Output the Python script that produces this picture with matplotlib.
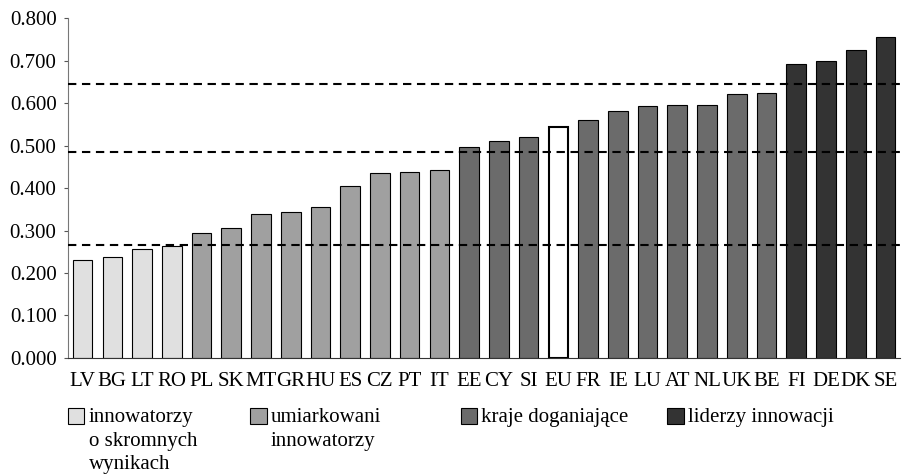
import matplotlib
matplotlib.use("Agg")
import matplotlib.pyplot as plt
from matplotlib.patches import Patch
from matplotlib.ticker import FormatStrFormatter

# dane
countries = ['LV', 'BG', 'LT', 'RO', 'PL', 'SK', 'MT', 'GR', 'HU', 'ES', 'CZ', 'PT', 'IT',
             'EE', 'CY', 'SI', 'EU', 'FR', 'IE', 'LU', 'AT', 'NL', 'UK', 'BE',
             'FI', 'DE', 'DK', 'SE']
values = [0.231, 0.238, 0.256, 0.263, 0.294, 0.306, 0.339, 0.343, 0.355, 0.405, 0.435, 0.438, 0.443,
          0.496, 0.510, 0.521, 0.544, 0.559, 0.581, 0.594, 0.596, 0.596, 0.621, 0.623,
          0.692, 0.700, 0.725, 0.755]
groups = [0, 0, 0, 0, 1, 1, 1, 1, 1, 1, 1, 1, 1,
          2, 2, 2, -1, 2, 2, 2, 2, 2, 2, 2,
          3, 3, 3, 3]
thresholds = [0.266, 0.485, 0.645]
group_labels = ['innowatorzy\no skromnych\nwynikach', 'umiarkowani\ninnowatorzy',
                'kraje doganiające', 'liderzy innowacji']
group_colors = ['#e0e0e0', '#a0a0a0', '#6b6b6b', '#333333']

plt.rcParams['font.family'] = ['Liberation Serif', 'DejaVu Serif']
plt.rcParams['font.size'] = 15

fig = plt.figure(figsize=(9.03, 4.76), dpi=100)
ax = fig.add_axes([0.075, 0.248, 0.922, 0.714])

colors = ['white' if g < 0 else group_colors[g] for g in groups]
lws = [1.5 if g < 0 else 0.8 for g in groups]
x = list(range(len(countries)))
ax.bar(x, values, width=0.66, color=colors, edgecolor='black', linewidth=lws, zorder=2)

for t in thresholds:
    ax.axhline(t, color='black', linestyle=(0, (4, 2.7)), linewidth=1.5, zorder=3)

ax.set_xlim(-0.5, len(countries) - 0.5)
ax.set_ylim(0, 0.8)
ax.set_yticks([i / 10 for i in range(9)])
ax.yaxis.set_major_formatter(FormatStrFormatter('%.3f'))
ax.set_xticks(x)
ax.set_xticklabels(countries)
ax.tick_params(axis='x', length=0, pad=10)
ax.tick_params(axis='y', length=3, pad=5, color='#555555')
ax.spines['top'].set_visible(False)
ax.spines['right'].set_visible(False)
ax.spines['left'].set_color('#777777')
ax.spines['bottom'].set_color('#333333')

# legenda - cztery osobne pozycje, kwadrat przy pierwszej linii
leg_x = [0.075, 0.277, 0.51, 0.739]
for i, lab in enumerate(group_labels):
    h = Patch(facecolor=group_colors[i], edgecolor='black', linewidth=0.8)
    leg = fig.legend([h], [lab], loc='upper left', bbox_to_anchor=(leg_x[i], 0.142),
                     frameon=False, handlelength=0.8, handleheight=0.75,
                     handletextpad=0.2, borderpad=0, borderaxespad=0, fontsize=15)
    for txt in leg.get_texts():
        txt.set_linespacing(1.32)
    for col in leg._legend_handle_box.get_children():
        for item in col.get_children():
            item.align = 'top'

fig.savefig('out.png', dpi=100)
